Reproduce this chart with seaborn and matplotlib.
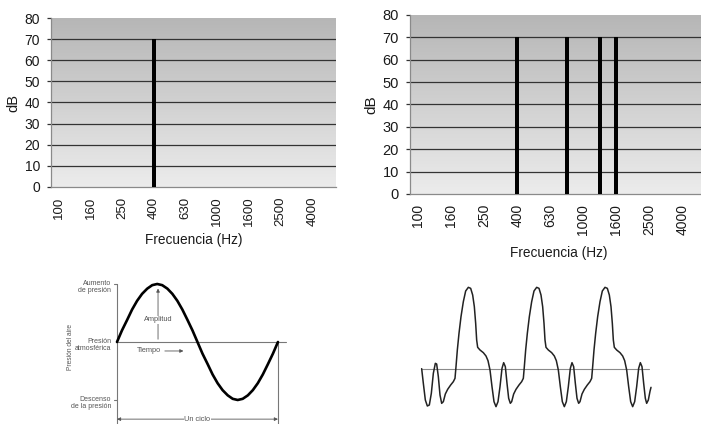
import numpy as np
import pandas as pd
import seaborn as sns
import matplotlib.pyplot as plt
from matplotlib.colors import LinearSegmentedColormap

# bandas de tercio de octava (Hz)
bandas = ['100', '125', '160', '200', '250', '315', '400', '500', '630',
          '800', '1000', '1250', '1600', '2000', '2500', '3150', '4000', '5000']
etiquetas_x = ['100', '160', '250', '400', '630', '1000', '1600', '2500', '4000']
niveles_y = [0, 10, 20, 30, 40, 50, 60, 70, 80]

# tono puro: solo 400 Hz
db_puro = [0, 0, 0, 0, 0, 0, 70, 0, 0, 0, 0, 0, 0, 0, 0, 0, 0, 0]
# sonido complejo: 400, 800, 1250, 1600 Hz
db_complejo = [0, 0, 0, 0, 0, 0, 70, 0, 0, 70, 0, 70, 70, 0, 0, 0, 0, 0]

# onda senoidal (fraccion de ciclo, presion relativa)
t_seno = [0, .031, .063, .094, .125, .156, .188, .219, .25, .281, .313, .344,
          .375, .406, .438, .469, .5, .531, .563, .594, .625, .656, .688, .719,
          .75, .781, .813, .844, .875, .906, .938, .969, 1.0]
p_seno = [0, .2, .38, .56, .71, .83, .92, .98, 1, .98, .92, .83, .71, .56, .38,
          .2, 0, -.2, -.38, -.56, -.71, -.83, -.92, -.98, -1, -.98, -.92, -.83,
          -.71, -.56, -.38, -.2, 0]

# onda compleja (tiempo y amplitud en unidades arbitrarias)
t_onda = [0, 5, 11, 17, 23, 29, 35, 41, 45, 50, 55, 60, 65, 71, 78, 87, 95, 100,
          103, 107, 112, 118, 125, 132, 140, 147, 153, 158, 162, 165, 168, 175,
          185, 193, 199, 205, 211, 217, 223, 229, 235, 241, 246, 251, 256, 261,
          266, 270, 276, 283, 292, 300, 305, 308, 312, 317, 323, 330, 337, 345,
          352, 358, 363, 367, 370, 373, 380, 390, 398, 404, 410, 416, 422, 428,
          434, 440, 446, 451, 456, 461, 466, 471, 475, 481, 488, 497, 505, 510,
          513, 517, 522, 528, 535, 542, 550, 557, 563, 568, 572, 575, 578, 585,
          595, 603, 609, 615, 621, 627, 633, 639, 645, 651, 656, 661, 666, 671,
          675, 680, 685, 688]
a_onda = [0, -44, -94, -112, -109, -74, -14, 16, 14, -24, -79, -104, -99, -76,
          -62, -49, -39, -29, 6, 56, 106, 156, 201, 233, 244, 241, 221, 186, 136,
          86, 64, 56, 48, 38, 24, -4, -54, -99, -114, -99, -54, 1, 18, 6, -44,
          -89, -104, -99, -76, -62, -49, -39, -29, 6, 56, 106, 156, 201, 233,
          244, 241, 221, 186, 136, 86, 64, 56, 48, 38, 24, -4, -54, -99, -114,
          -99, -54, 1, 18, 6, -44, -89, -104, -99, -76, -62, -49, -39, -29, 6,
          56, 106, 156, 201, 233, 244, 241, 221, 186, 136, 86, 64, 56, 48, 38,
          24, -4, -54, -99, -114, -99, -54, 1, 18, 6, -44, -89, -104, -94, -68,
          -56]

sns.set_style('white')
plt.rcParams['font.family'] = ['Liberation Sans', 'DejaVu Sans']

W, H = 701, 424
fig = plt.figure(figsize=(W / 100, H / 100), dpi=100)

cmap = LinearSegmentedColormap.from_list('fondo', ['#ececec', '#b6b6b6'])
fondo = np.linspace(0, 1, 256).reshape(-1, 1)


def espectro(ax, valores, fs, pad_lbl):
    df = pd.DataFrame({'banda': bandas, 'dB': valores})
    sns.barplot(data=df, x='banda', y='dB', order=bandas, color='black',
                saturation=1, width=0.22, linewidth=0, edgecolor='black',
                ax=ax, zorder=3)
    ax.imshow(fondo, extent=(-0.5, 17.5, 0, 80), aspect='auto', cmap=cmap,
              origin='lower', zorder=0, interpolation='bicubic')
    ax.hlines(niveles_y[1:-1], -0.5, 17.5, color='#333333', lw=0.9, zorder=1)
    ax.set_xlim(-0.5, 17.5)
    ax.set_ylim(0, 80)
    ax.set_xticks(range(0, 18, 2), etiquetas_x, rotation=90)
    ax.set_xticks(np.arange(-0.5, 18, 1), minor=True)
    ax.set_yticks(niveles_y)
    ax.tick_params(axis='x', which='major', length=0, pad=7, labelsize=fs,
                   labelcolor='#1a1a1a')
    ax.tick_params(axis='x', which='minor', length=3.5, width=0.8,
                   color='#777777', direction='out')
    ax.tick_params(axis='y', length=3, width=0.9, color='#333333', pad=5,
                   labelsize=fs + 0.5, labelcolor='#1a1a1a', left=True)
    for s in ['top', 'right']:
        ax.spines[s].set_visible(False)
    for s in ['left', 'bottom']:
        ax.spines[s].set_color('#8a8a8a')
        ax.spines[s].set_linewidth(0.9)
    ax.set_xlabel('Frecuencia (Hz)', fontsize=9.8, labelpad=pad_lbl,
                  color='#1a1a1a')
    ax.set_ylabel('dB', fontsize=fs + 1, labelpad=3, color='#1a1a1a')


ax1 = fig.add_axes([51 / W, (H - 187) / H, 285 / W, 169 / H])
espectro(ax1, db_puro, 9.5, 5)

ax2 = fig.add_axes([410 / W, (H - 194) / H, 297 / W, 179 / H])
espectro(ax2, db_complejo, 10, 8)

# --- onda senoidal ---
gris = '#555555'
ax3 = fig.add_axes([60 / W, 0, 240 / W, 149 / H])
ax3.set_xlim(-0.354, 1.137)
ax3.set_ylim(-1.414, 1.155)
ax3.axis('off')
ax3.plot([0, 1.05], [0, 0], color='#777777', lw=0.8)
ax3.plot([0, 0], [1.0, -1.42], color='#777777', lw=0.8)
ax3.plot([1, 1], [0, -1.42], color='#777777', lw=0.8)
ax3.plot([-0.02, 0], [1, 1], color='#777777', lw=0.8)
ax3.plot([-0.02, 0], [-1, -1], color='#777777', lw=0.8)
sns.lineplot(x=t_seno, y=p_seno, ax=ax3, color='black', lw=1.9, sort=False,
             estimator=None)
ax3.annotate('', xy=(0.255, 0.97), xytext=(0.255, 0),
             arrowprops=dict(arrowstyle='-|>', color=gris, lw=0.6,
                             mutation_scale=5))
ax3.text(0.255, 0.38, 'Amplitud', fontsize=5.3, color=gris, ha='center',
         va='center', bbox=dict(fc='white', ec='none', pad=0.5))
ax3.text(0.2, -0.155, 'Tiempo', fontsize=5.3, color=gris, ha='center', va='center')
ax3.annotate('', xy=(0.43, -0.155), xytext=(0.28, -0.155),
             arrowprops=dict(arrowstyle='-|>', color=gris, lw=0.6,
                             mutation_scale=5))
ax3.annotate('', xy=(1, -1.33), xytext=(0, -1.33),
             arrowprops=dict(arrowstyle='<|-|>', color=gris, lw=0.6,
                             mutation_scale=5, shrinkA=0, shrinkB=0))
ax3.text(0.5, -1.33, 'Un ciclo', fontsize=5.3, color=gris, ha='center',
         va='center', bbox=dict(fc='white', ec='none', pad=0.5))
ax3.text(-0.035, 1.07, 'Aumento\nde presión', fontsize=5, color=gris,
         ha='right', va='top', linespacing=1.1)
ax3.text(-0.035, 0.07, 'Presión\natmosférica', fontsize=5, color=gris,
         ha='right', va='top', linespacing=1.1)
ax3.text(-0.035, -0.93, 'Descenso\nde la presión', fontsize=5, color=gris,
         ha='right', va='top', linespacing=1.1)
ax3.text(-0.29, -0.09, 'Presión del aire', fontsize=4.8, color=gris,
         ha='center', va='center', rotation=90)

# --- onda compleja ---
ax4 = fig.add_axes([400 / W, 0, 301 / W, 149 / H])
ax4.set_xlim(-65, 838)
ax4.set_ylim(-166, 281)
ax4.axis('off')
ax4.plot([0, 683], [0, 0], color='#8a8a8a', lw=0.8)
sns.lineplot(x=t_onda, y=a_onda, ax=ax4, color='#222222', lw=1.1, sort=False,
             estimator=None)

fig.savefig('out.png', dpi=100)
